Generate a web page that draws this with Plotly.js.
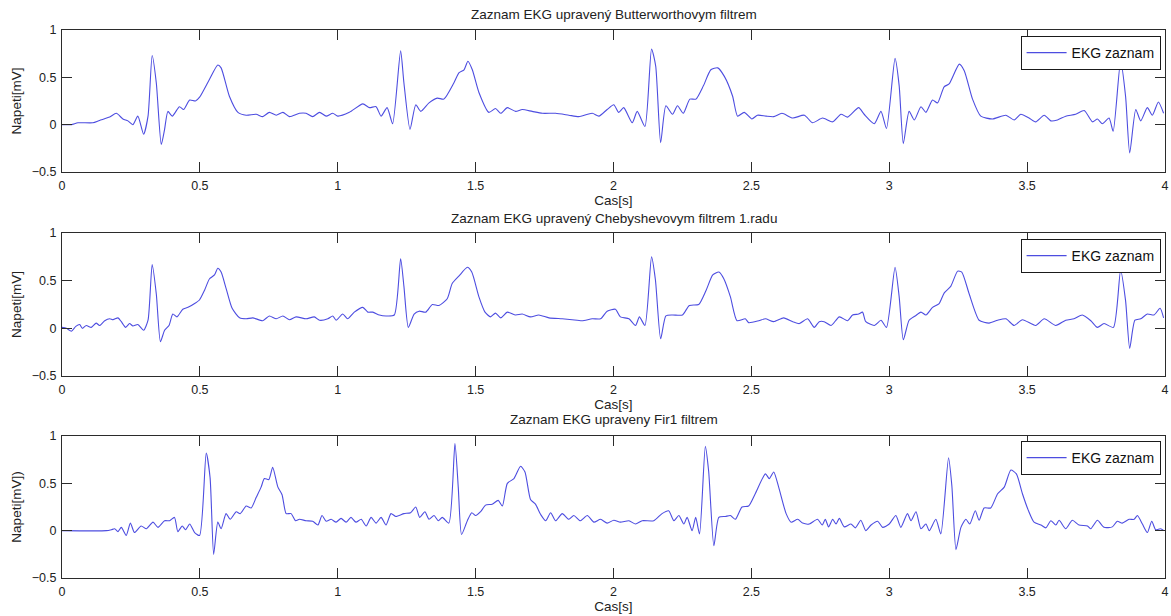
<!DOCTYPE html>
<html>
<head>
<meta charset="utf-8">
<script src="https://cdn.plot.ly/plotly-3.0.1.min.js"></script>
<style>html,body{margin:0;padding:0;background:#fff;}#chart{width:1171px;height:616px;}</style>
</head>
<body>
<div id="chart"></div>
<script>
// ---------- data ----------
const titles = [
  "Zaznam EKG upravený Butterworthovym filtrem",
  "Zaznam EKG upravený Chebyshevovym filtrem 1.radu",
  "Zaznam EKG upraveny Fir1 filtrem"
];
const xTitle = "Cas[s]";
const yTitles = ["Napeti[mV]", "Napeti[mV]", "Napeti[mV])"];
const seriesName = "EKG zaznam";

const t_butter = [0,0.034,0.058,0.112,0.136,0.173,0.197,0.221,0.239,0.257,0.275,0.296,0.312,0.327,0.342,0.360,0.372,0.384,0.400,0.426,0.441,0.463,0.484,0.499,0.535,0.565,0.577,0.607,0.638,0.668,0.704,0.728,0.752,0.777,0.801,0.825,0.861,0.885,0.909,0.934,0.958,0.982,1.000,1.042,1.091,1.115,1.139,1.157,1.179,1.199,1.228,1.240,1.262,1.283,1.301,1.331,1.361,1.385,1.421,1.440,1.458,1.472,1.488,1.512,1.548,1.572,1.591,1.615,1.645,1.669,1.705,1.742,1.790,1.838,1.874,1.923,1.947,1.977,2.001,2.019,2.037,2.068,2.086,2.114,2.138,2.153,2.171,2.190,2.214,2.232,2.253,2.277,2.299,2.326,2.353,2.378,2.402,2.432,2.450,2.474,2.502,2.522,2.553,2.581,2.611,2.650,2.692,2.722,2.758,2.795,2.825,2.849,2.889,2.909,2.946,2.970,2.990,3.021,3.036,3.051,3.072,3.091,3.115,3.133,3.157,3.175,3.199,3.217,3.254,3.272,3.302,3.332,3.374,3.423,3.453,3.477,3.507,3.531,3.562,3.586,3.610,3.640,3.676,3.707,3.737,3.755,3.773,3.797,3.812,3.839,3.857,3.872,3.894,3.912,3.936,3.954,3.976,3.995];
const v_butter = [0,0,0.02,0.02,0.045,0.08,0.12,0.06,0.04,0.0,0.09,-0.10,0.09,0.73,0.44,-0.21,-0.05,0.14,0.09,0.19,0.16,0.26,0.25,0.29,0.48,0.63,0.60,0.30,0.13,0.10,0.11,0.085,0.13,0.10,0.13,0.085,0.12,0.12,0.085,0.13,0.09,0.12,0.09,0.13,0.22,0.18,0.19,0.09,0.18,0.01,0.78,0.44,-0.05,0.21,0.14,0.23,0.28,0.27,0.44,0.55,0.58,0.67,0.58,0.34,0.13,0.17,0.12,0.18,0.14,0.16,0.14,0.12,0.12,0.10,0.085,0.12,0.09,0.16,0.21,0.13,0.18,0.02,0.14,-0.02,0.80,0.62,-0.19,0.20,0.11,0.20,0.12,0.27,0.27,0.41,0.58,0.60,0.51,0.30,0.09,0.13,0.06,0.10,0.09,0.085,0.12,0.07,0.10,0.02,0.07,0.03,0.11,0.08,0.18,0.11,0.01,0.14,-0.04,0.70,0.41,-0.20,0.14,0.05,0.19,0.13,0.26,0.23,0.40,0.43,0.64,0.57,0.27,0.09,0.06,0.10,0.05,0.11,0.07,0.03,0.10,0.04,0.05,0.09,0.11,0.15,0.03,0.06,0.01,0.07,-0.07,0.67,0.30,-0.30,0.16,0.04,0.18,0.10,0.24,0.12];

const t_cheby = [0,0.016,0.034,0.050,0.064,0.074,0.088,0.106,0.124,0.136,0.155,0.173,0.185,0.203,0.215,0.231,0.245,0.257,0.275,0.296,0.312,0.327,0.342,0.357,0.372,0.388,0.402,0.417,0.438,0.457,0.481,0.499,0.517,0.535,0.553,0.565,0.577,0.595,0.617,0.644,0.668,0.692,0.728,0.752,0.777,0.801,0.825,0.849,0.885,0.915,0.934,0.964,0.982,0.994,1.018,1.036,1.060,1.091,1.109,1.127,1.151,1.175,1.205,1.228,1.240,1.256,1.277,1.295,1.319,1.343,1.367,1.397,1.415,1.440,1.470,1.486,1.512,1.534,1.554,1.572,1.591,1.615,1.645,1.669,1.699,1.729,1.766,1.814,1.850,1.886,1.923,1.953,1.977,2.007,2.025,2.056,2.080,2.094,2.114,2.138,2.152,2.171,2.190,2.214,2.250,2.275,2.309,2.336,2.360,2.382,2.400,2.424,2.448,2.478,2.490,2.527,2.551,2.581,2.617,2.650,2.674,2.704,2.728,2.746,2.764,2.789,2.819,2.849,2.867,2.889,2.903,2.915,2.946,2.970,2.990,3.021,3.036,3.051,3.072,3.094,3.115,3.133,3.157,3.181,3.199,3.223,3.248,3.263,3.290,3.326,3.362,3.393,3.423,3.453,3.483,3.531,3.562,3.604,3.640,3.670,3.700,3.731,3.755,3.779,3.813,3.839,3.857,3.872,3.891,3.912,3.936,3.960,3.982,3.995];
const v_cheby = [0.01,0.0,-0.03,0.02,0.04,0.0,0.03,0.01,0.055,0.03,0.08,0.10,0.09,0.11,0.07,0.01,0.05,0.025,0.04,-0.02,0.085,0.67,0.36,-0.14,-0.02,0.03,0.15,0.12,0.20,0.22,0.26,0.30,0.40,0.52,0.56,0.63,0.59,0.42,0.21,0.11,0.10,0.11,0.08,0.13,0.10,0.13,0.09,0.12,0.10,0.12,0.085,0.10,0.13,0.085,0.15,0.10,0.17,0.22,0.17,0.17,0.14,0.13,0.14,0.73,0.44,0.01,0.15,0.18,0.17,0.25,0.24,0.31,0.47,0.55,0.64,0.59,0.33,0.17,0.12,0.16,0.11,0.17,0.14,0.15,0.12,0.14,0.11,0.10,0.09,0.08,0.10,0.10,0.18,0.20,0.12,0.10,0.03,0.12,0.03,0.75,0.51,-0.11,0.13,0.14,0.14,0.24,0.25,0.40,0.56,0.59,0.52,0.33,0.08,0.10,0.06,0.08,0.10,0.07,0.11,0.07,0.05,0.10,0.01,0.07,0.07,0.03,0.12,0.08,0.14,0.15,0.17,0.07,0.03,0.085,0.01,0.64,0.33,-0.12,0.085,0.13,0.17,0.14,0.22,0.26,0.37,0.44,0.60,0.59,0.36,0.085,0.055,0.085,0.10,0.03,0.09,0.03,0.10,0.03,0.085,0.10,0.14,0.08,0.01,0.05,0.01,0.61,0.29,-0.21,0.085,0.10,0.15,0.14,0.21,0.11];

const t_fir = [0,0.161,0.179,0.191,0.203,0.215,0.233,0.248,0.263,0.287,0.306,0.330,0.348,0.372,0.390,0.408,0.420,0.436,0.448,0.463,0.481,0.499,0.523,0.537,0.550,0.565,0.577,0.595,0.610,0.632,0.646,0.668,0.686,0.704,0.722,0.734,0.750,0.764,0.783,0.798,0.813,0.831,0.847,0.861,0.885,0.909,0.928,0.943,0.958,0.976,0.994,1.012,1.030,1.048,1.066,1.085,1.103,1.121,1.139,1.157,1.175,1.193,1.211,1.240,1.264,1.283,1.297,1.316,1.331,1.349,1.365,1.379,1.403,1.425,1.437,1.449,1.470,1.486,1.500,1.518,1.536,1.560,1.582,1.597,1.615,1.639,1.663,1.679,1.699,1.717,1.736,1.754,1.772,1.790,1.814,1.838,1.856,1.880,1.905,1.929,1.953,1.977,2.001,2.025,2.056,2.080,2.104,2.146,2.176,2.200,2.219,2.237,2.255,2.267,2.285,2.298,2.312,2.333,2.345,2.364,2.382,2.406,2.424,2.442,2.466,2.490,2.514,2.551,2.565,2.581,2.599,2.626,2.644,2.668,2.686,2.710,2.740,2.757,2.768,2.780,2.795,2.807,2.819,2.837,2.861,2.877,2.897,2.915,2.934,2.958,2.976,3.000,3.024,3.042,3.066,3.079,3.097,3.115,3.133,3.145,3.169,3.187,3.215,3.227,3.242,3.260,3.278,3.292,3.312,3.326,3.344,3.368,3.393,3.417,3.441,3.461,3.483,3.505,3.525,3.550,3.568,3.586,3.604,3.616,3.640,3.664,3.688,3.719,3.731,3.755,3.779,3.809,3.827,3.845,3.870,3.888,3.900,3.918,3.936,3.952,3.966,3.984,3.996];
const v_fir = [0,0,0.01,0.02,-0.01,0.035,-0.05,0.08,-0.02,0.05,0.02,0.09,0.035,0.105,0.105,0.14,-0.01,0.05,0.01,0.07,-0.02,-0.05,0.82,0.56,-0.25,0.09,0.02,0.18,0.12,0.20,0.18,0.26,0.24,0.35,0.46,0.55,0.54,0.67,0.46,0.38,0.18,0.18,0.105,0.12,0.105,0.10,0.06,0.16,0.10,0.12,0.09,0.13,0.09,0.14,0.09,0.12,0.05,0.14,0.08,0.14,0.06,0.18,0.15,0.18,0.19,0.25,0.14,0.20,0.12,0.16,0.105,0.14,0.08,0.92,0.46,-0.04,0.105,0.19,0.16,0.20,0.27,0.28,0.32,0.26,0.50,0.55,0.68,0.62,0.33,0.28,0.17,0.105,0.19,0.105,0.18,0.12,0.16,0.105,0.16,0.09,0.12,0.08,0.11,0.09,0.105,0.07,0.105,0.105,0.18,0.21,0.105,0.16,0.07,0.14,0.0,0.14,-0.035,0.89,0.63,-0.16,0.14,0.15,0.16,0.12,0.25,0.26,0.39,0.60,0.55,0.62,0.46,0.18,0.09,0.12,0.08,0.07,0.12,0.06,0.12,0.04,0.12,0.07,0.13,0.04,0.07,0.03,0.11,0.0,0.06,0.10,0.035,0.07,0.16,0.035,0.18,0.105,0.20,0.02,0.07,0.0,0.12,-0.035,0.77,0.475,-0.20,0.035,0.12,0.07,0.21,0.11,0.24,0.24,0.39,0.46,0.64,0.60,0.39,0.21,0.09,0.06,0.03,0.105,0.06,0.11,0.02,0.11,0.06,0.05,0.02,0.11,0.035,0.04,0.10,0.08,0.12,0.12,0.16,0.07,-0.02,0.10,0.01,0.02,0.0];

const xTickVals = [0,0.5,1,1.5,2,2.5,3,3.5,4];
const yTickVals = [-0.5,0,0.5,1];

// ---------- figure ----------
const W = 1171, H = 616;
const plotTopPx = [30, 233, 436];
const plotBotPx = [172, 376, 578];
const titleYPx = [15, 218, 420];
const legendTopPx = [36, 239, 441];

const lineColor = '#4d4de0';
const txt = '#222222';
const axCol = '#2b2b2b';
const fnt = 'Liberation Sans, Arial, sans-serif';

const xs = [t_butter, t_cheby, t_fir];
const ys = [v_butter, v_cheby, v_fir];

const traces = [];
const layout = {
  width: W, height: H,
  margin: {l: 62, r: 6, t: 0, b: 0},
  paper_bgcolor: '#ffffff', plot_bgcolor: '#ffffff',
  font: {family: fnt, size: 12.5, color: txt},
  showlegend: true,
  annotations: []
};

for (let i = 0; i < 3; i++) {
  const sfx = i === 0 ? '' : String(i + 1);
  traces.push({
    x: xs[i], y: ys[i],
    type: 'scatter', mode: 'lines',
    name: seriesName,
    line: {color: lineColor, width: 1.1, shape: 'spline', smoothing: 0.6},
    xaxis: 'x' + sfx, yaxis: 'y' + sfx,
    legend: 'legend' + sfx,
    showlegend: true,
    hoverinfo: 'skip'
  });
  const dom = [1 - plotBotPx[i] / H, 1 - plotTopPx[i] / H];
  layout['xaxis' + sfx] = {
    domain: [0, 1], anchor: 'y' + sfx, range: [0, 4],
    tickvals: xTickVals, ticks: 'inside', ticklen: 10, tickwidth: 1, tickcolor: axCol,
    showline: true, linecolor: axCol, linewidth: 1, mirror: 'allticks',
    showgrid: false, zeroline: false, fixedrange: true,
    tickfont: {family: fnt, size: 12.5, color: txt},
    ticklabelstandoff: 2,
    title: {text: xTitle, font: {family: fnt, size: 13.5, color: txt}, standoff: 0}
  };
  layout['yaxis' + sfx] = {
    domain: dom, anchor: 'x' + sfx, range: [-0.5, 1],
    tickvals: yTickVals, ticks: 'inside', ticklen: 10, tickwidth: 1, tickcolor: axCol,
    showline: true, linecolor: axCol, linewidth: 1, mirror: 'allticks',
    showgrid: false, zeroline: false, fixedrange: true,
    tickfont: {family: fnt, size: 12.5, color: txt},
    ticklabelstandoff: 2,
    title: {text: yTitles[i], font: {family: fnt, size: 13.5, color: txt}, standoff: 7}
  };
  layout['legend' + sfx] = {
    x: 0.996, xanchor: 'right', xref: 'paper',
    y: 1 - legendTopPx[i] / H, yanchor: 'top', yref: 'paper',
    bgcolor: '#ffffff', bordercolor: '#1a1a1a', borderwidth: 1,
    font: {family: fnt, size: 14, color: '#111'},
    itemwidth: 40
  };
  layout.annotations.push({
    text: titles[i], xref: 'paper', yref: 'paper',
    x: 0.5, y: 1 - titleYPx[i] / H, xanchor: 'center', yanchor: 'middle',
    showarrow: false, font: {family: fnt, size: 13.5, color: txt}
  });
}

Plotly.newPlot('chart', traces, layout, {displayModeBar: false, staticPlot: true});
</script>
</body>
</html>
